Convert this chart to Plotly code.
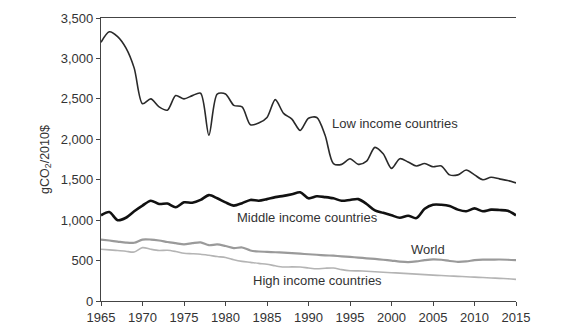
import plotly.graph_objects as go

years = list(range(1965, 2016))

low_income = [3200, 3330, 3270, 3130, 2880, 2440, 2500, 2400, 2360, 2540,
              2500, 2540, 2570, 2050, 2560, 2560, 2420, 2400, 2180, 2200,
              2270, 2490, 2320, 2250, 2110, 2260, 2270, 2050, 1700, 1690,
              1760, 1690, 1730, 1900, 1820, 1640, 1760, 1720, 1670, 1700,
              1660, 1670, 1560, 1560, 1620, 1560, 1500, 1530, 1510, 1490, 1460]

middle_income = [1060, 1100, 1000, 1030, 1110, 1180, 1240, 1200, 1205, 1160,
                 1220, 1215, 1250, 1310, 1270, 1220, 1180, 1210, 1250, 1240,
                 1260, 1285, 1300, 1320, 1345, 1270, 1295, 1285, 1270, 1240,
                 1250, 1260, 1200, 1120, 1090, 1060, 1030, 1055, 1025, 1140,
                 1190, 1190, 1175, 1130, 1110, 1145, 1110, 1130, 1125, 1115, 1060]

world = [760, 748, 735, 722, 720, 760, 760, 748, 730, 715,
         700, 715, 725, 690, 700, 680, 655, 662, 625, 612,
         608, 603, 598, 592, 585, 578, 572, 565, 560, 553,
         545, 537, 528, 520, 510, 500, 488, 482, 490, 505,
         515, 510, 495, 485, 490, 505, 512, 512, 513, 510, 505]

high_income = [640, 632, 625, 615, 605, 660, 640, 625, 628, 612,
               590, 585, 578, 565, 550, 538, 510, 490, 478, 465,
               455, 435, 420, 422, 420, 408, 398, 405, 408, 388,
               375, 372, 368, 362, 355, 350, 345, 338, 332, 326,
               320, 315, 310, 305, 300, 295, 290, 285, 280, 275, 268]

x_ticks = list(range(1965, 2016, 5))
y_ticks = list(range(0, 3501, 500))
y_tick_labels = ["0", "500", "1,000", "1,500", "2,000", "2,500", "3,000", "3,500"]

series = [
    ("Low income countries", low_income, "#2a2a2a", 1.6),
    ("Middle income countries", middle_income, "#111111", 2.6),
    ("World", world, "#9a9a9a", 2.2),
    ("High income countries", high_income, "#b4b4b4", 1.6),
]

fig = go.Figure()
for name, vals, col, w in series:
    fig.add_trace(go.Scatter(x=years, y=vals, mode="lines", name=name,
                             line=dict(color=col, width=w, shape="spline", smoothing=0.8),
                             showlegend=False))

labels = [
    ("Low income countries", 1992.8, 2190),
    ("Middle income countries", 1981.4, 1034),
    ("World", 2002.3, 637),
    ("High income countries", 1983.3, 253),
]
for text, xx, yy in labels:
    fig.add_annotation(x=xx, y=yy, text=text, showarrow=False, xanchor="left",
                       yanchor="middle", xshift=-2, font=dict(size=13, color="#333333"))

fig.update_layout(
    width=561, height=336,
    margin=dict(l=101, r=45, t=11, b=34),
    paper_bgcolor="white", plot_bgcolor="white",
    font=dict(family="Liberation Sans, Arial, sans-serif", size=13, color="#333333"),
)
fig.update_xaxes(range=[1965, 2015], tickvals=x_ticks, showgrid=False, zeroline=False,
                 showline=True, linecolor="#444444", linewidth=1.3, mirror=True,
                 ticks="outside", ticklen=4, tickcolor="#444444")
fig.update_yaxes(range=[0, 3500], tickvals=y_ticks, ticktext=y_tick_labels, showgrid=False,
                 zeroline=False, showline=True, linecolor="#444444", linewidth=1.3,
                 ticks="outside", ticklen=4, tickcolor="#444444",
                 title=dict(text="gCO<sub>2</sub>/2010$", standoff=8, font=dict(size=12.5)))

fig.write_html("out.html")
